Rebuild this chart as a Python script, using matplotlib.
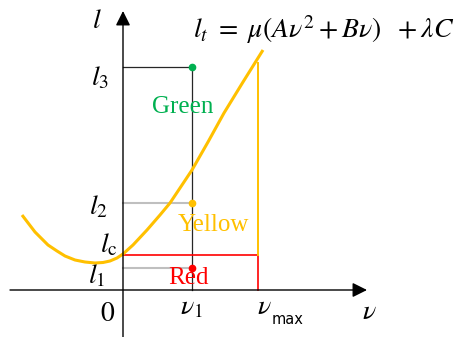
import matplotlib
matplotlib.use("Agg")
import matplotlib.pyplot as plt

plt.rcParams["mathtext.fontset"] = "stix"

# Cost curve l(v), sampled along the drawn line
curve_v = [-10.1, -8.8, -7.5, -6.6, -5.8, -4.8, -3.8, -2.8, -2.0, -1.3, -0.6, 0.0,
           1.0, 2.4, 3.7, 4.7, 5.7, 6.9, 8.5, 10.1, 12.0, 14.0]
curve_l = [7.5, 5.8, 4.5, 3.9, 3.4, 3.0, 2.8, 2.7, 2.75, 2.9, 3.2, 3.6,
           4.5, 6.0, 7.5, 8.7, 10.2, 12.0, 14.8, 17.7, 20.8, 24.0]

# Key levels and speeds
v1 = 6.9
v_max = 13.5
l1 = 2.2
l2 = 8.7
l3 = 22.3
l_c = 3.5
l_at_vmax = 22.7

YELLOW = "#FFC000"
GREEN = "#00B050"
RED = "#FF0000"
GRAY = "#BFBFBF"

fig = plt.figure(figsize=(4.55, 3.37), dpi=100)
ax = fig.add_axes([0, 0, 1, 1])
ax.set_xlim(-12.3, 33.2)
ax.set_ylim(-4.7, 29.0)
ax.axis("off")

# Axes with arrow heads
ax.annotate("", xy=(0, 27.9), xytext=(0, -4.7),
            arrowprops=dict(arrowstyle="-|>", color="black", lw=1.0,
                            mutation_scale=22, shrinkA=0, shrinkB=0))
ax.annotate("", xy=(24.4, 0), xytext=(-11.3, 0),
            arrowprops=dict(arrowstyle="-|>", color="black", lw=1.0,
                            mutation_scale=22, shrinkA=0, shrinkB=0))

# Guide lines
ax.plot([0, v1], [l3, l3], color="#262626", lw=0.9)
ax.plot([v1, v1], [0, l3], color="#262626", lw=0.9)
ax.plot([0, v1], [l2, l2], color=GRAY, lw=1.5)
ax.plot([0, v1], [l1, l1], color=GRAY, lw=1.5)

# Red region boundary
ax.plot([0, v_max, v_max], [l_c, l_c, 0], color=RED, lw=1.2)
# Upper limit at v_max
ax.plot([v_max, v_max], [l_c, l_at_vmax], color=YELLOW, lw=1.4)

# Curve
ax.plot(curve_v, curve_l, color=YELLOW, lw=2.2, solid_capstyle="butt")

# Points at v1
ax.plot([v1], [l3], "o", color=GREEN, ms=4.5)
ax.plot([v1], [l2], "o", color=YELLOW, ms=4.5)
ax.plot([v1], [l1], "o", color=RED, ms=4.5)

# Region labels
serif = "Liberation Serif"
ax.text(6.0, 18.3, "Green", color=GREEN, family=serif, fontsize=18,
        ha="center", va="center")
ax.text(9.0, 6.5, "Yellow", color=YELLOW, family=serif, fontsize=18,
        ha="center", va="center")
ax.text(6.5, 1.2, "Red", color=RED, family=serif, fontsize=18,
        ha="center", va="center")

# Axis labels
fs = 20
ax.text(-2.6, 27.0, r"$l$", fontsize=fs, ha="center", va="center")
ax.text(-2.3, 21.3, r"$l_3$", fontsize=fs, ha="center", va="center")
ax.text(-2.5, 8.4, r"$l_2$", fontsize=fs, ha="center", va="center")
ax.text(-1.4, 4.6, r"$l_\mathrm{c}$", fontsize=fs, ha="center", va="center")
ax.text(-2.6, 1.5, r"$l_1$", fontsize=fs, ha="center", va="center")
ax.text(-1.5, -2.3, r"$0$", fontsize=fs, ha="center", va="center")
ax.text(6.8, -1.6, r"$\nu_1$", fontsize=fs, ha="center", va="center")
ax.text(14.9, -1.6, r"$\nu$", fontsize=fs, ha="right", va="center")
ax.text(14.9, -2.95, "max", family="DejaVu Sans", fontsize=10.5,
        ha="left", va="center")
ax.text(24.6, -2.1, r"$\nu$", fontsize=fs, ha="center", va="center")

# Formula
ax.text(7.0, 26.0, r"$l_t\ =\ \mu(A\nu^2 + B\nu)\ \ + \lambda C$", fontsize=fs,
        ha="left", va="center")

fig.savefig("out.png", dpi=100)
